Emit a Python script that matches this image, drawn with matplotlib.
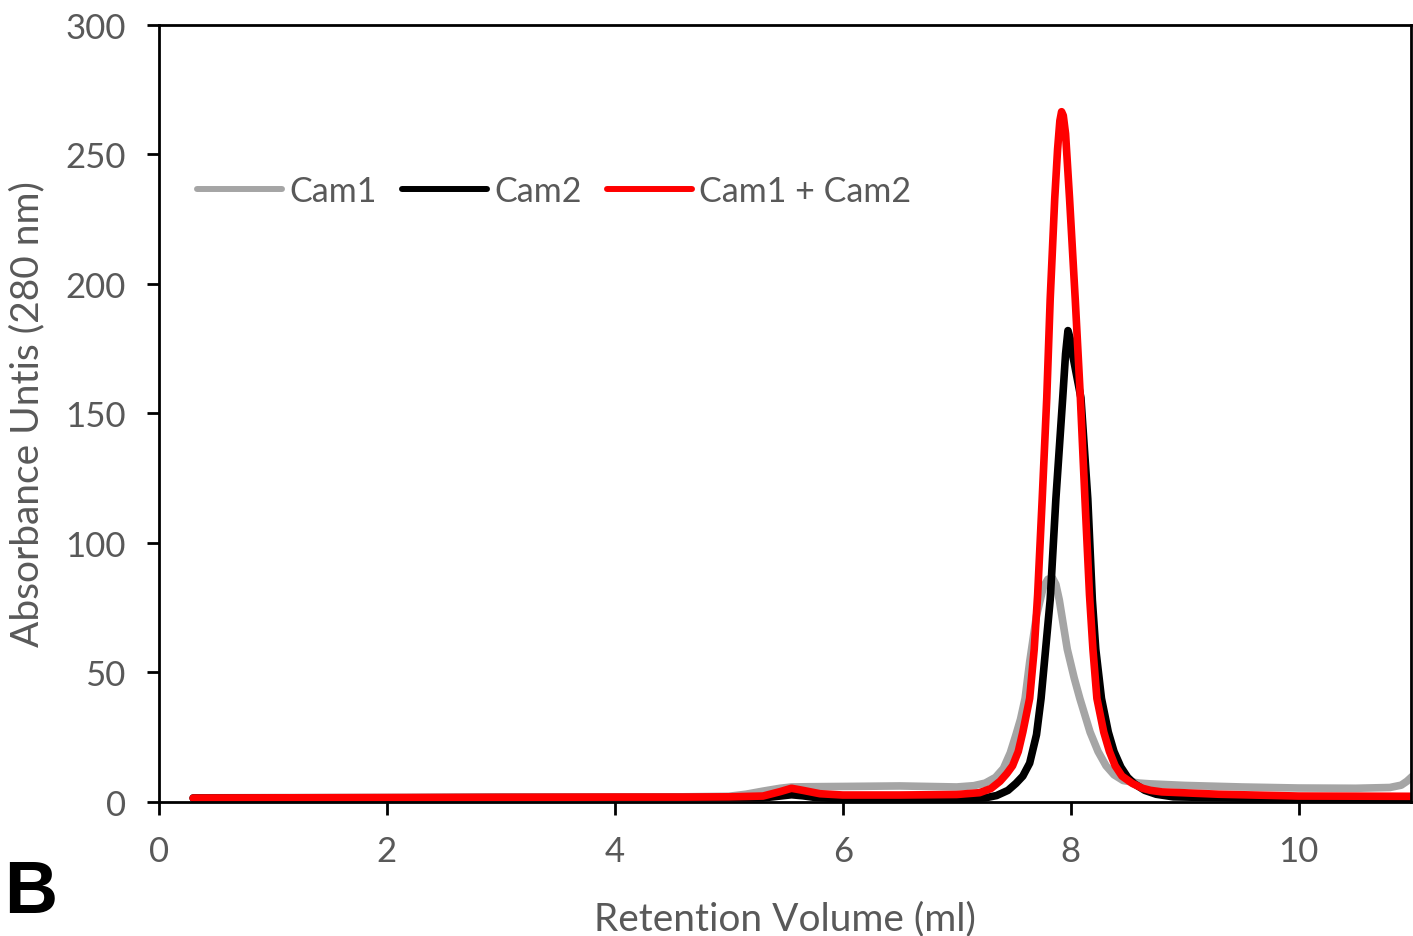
import numpy as np
import matplotlib
matplotlib.use("Agg")
import matplotlib.pyplot as plt

# (ml, absorbance units)
cam1_x = [0.3, 1, 2, 3, 4, 4.6, 5.0, 5.15, 5.3, 5.45, 5.55, 5.7, 6.0, 6.5, 7.0,
          7.15, 7.25, 7.34, 7.41, 7.47, 7.52, 7.56, 7.6, 7.64, 7.7, 7.76, 7.8, 7.84,
          7.87, 7.9, 7.97, 8.03, 8.08, 8.17, 8.24, 8.31, 8.38, 8.46, 8.6, 8.7, 9.0,
          9.5, 10.0, 10.5, 10.8, 10.9, 10.95, 11.0]
cam1_y = [1.6, 1.7, 1.8, 1.9, 1.9, 2.0, 2.2, 3.0, 4.2, 5.3, 5.8, 5.9, 6.0, 6.2, 5.8,
          6.3, 7.3, 9.5, 13, 19, 26, 32, 40, 54, 72, 83, 86, 86.5,
          84, 78, 59, 48, 40, 27, 19.5, 14, 10.5, 8.3, 7.3, 7.0, 6.4,
          5.8, 5.4, 5.3, 5.6, 6.5, 8.0, 10.0]

cam2_x = [0.3, 1, 2, 3, 4, 5.0, 5.3, 5.45, 5.55, 5.65, 5.75, 6.0, 7.0, 7.25, 7.35,
          7.45, 7.52, 7.58, 7.64, 7.7, 7.74, 7.78, 7.82, 7.87, 7.93, 7.955, 7.976,
          7.995, 8.02, 8.09, 8.15, 8.19, 8.22, 8.27, 8.33, 8.38, 8.44, 8.5,
          8.56, 8.65, 8.75, 8.9, 9.5, 10.0, 10.5, 11.0]
cam2_y = [1.5, 1.5, 1.6, 1.7, 1.7, 1.7, 1.6, 2.3, 2.8, 2.4, 1.8, 1.2, 1.2, 1.6, 2.5,
          4.5, 7.2, 10, 15, 26, 40, 59, 78, 117, 156, 173, 182,
          179, 172, 156, 117, 78, 59, 40, 27, 19.5, 13.5, 9.5,
          7.0, 4.5, 3.0, 2.0, 1.5, 1.4, 1.3, 1.3]

mix_x = [0.3, 1, 2, 3, 4, 4.6, 5.0, 5.3, 5.45, 5.55, 5.65, 5.8, 6.0, 6.5, 7.0,
         7.2, 7.3, 7.38, 7.44, 7.49, 7.54, 7.58, 7.64, 7.68, 7.71, 7.75, 7.79, 7.82,
         7.86, 7.885, 7.905, 7.92, 7.935, 7.955, 7.99, 8.04, 8.085, 8.125, 8.165,
         8.195, 8.23, 8.29, 8.34, 8.39, 8.45, 8.54, 8.63, 8.7, 8.8, 9.3, 10.0, 11.0]
mix_y = [1.5, 1.6, 1.7, 1.8, 1.9, 1.9, 2.0, 2.3, 4.0, 5.3, 4.5, 3.2, 2.7, 2.7, 2.9,
         3.6, 5.2, 8, 11, 14, 19.5, 27, 40, 59, 80, 117, 156, 194,
         233, 252, 263, 266.5, 265, 258, 233, 194, 156, 117, 80,
         59, 40, 27, 19.5, 14, 10, 7.2, 5.3, 4.5, 3.9, 3.0, 2.3, 2.2]

labels = ["Cam1", "Cam2", "Cam1 + Cam2"]
colors = ["#A5A5A5", "#000000", "#FF0000"]

plt.rcParams["font.family"] = ["Lato", "DejaVu Sans"]

fig = plt.figure(figsize=(14.13, 9.37), dpi=100)
ax = fig.add_axes([0.1125, 0.143, 0.886, 0.8293])

for xs, ys, lab, c in zip([cam1_x, cam2_x, mix_x], [cam1_y, cam2_y, mix_y], labels, colors):
    ax.plot(xs, ys, color=c, lw=5.5, label=lab, solid_capstyle="round", solid_joinstyle="round")

ax.set_xlim(0, 10.985)
ax.set_ylim(0, 300)
ax.set_xticks([0, 2, 4, 6, 8, 10])
ax.set_yticks([0, 50, 100, 150, 200, 250, 300])

for s in ax.spines.values():
    s.set_linewidth(2.0)
    s.set_color("black")
ax.tick_params(direction="out", length=9, width=2.0, labelsize=25,
               labelcolor="#595959", pad=15)

ax.set_xlabel("Retention Volume (ml)", fontsize=28, color="#595959", labelpad=24)
ax.set_ylabel("Absorbance Untis (280 nm)", fontsize=28, color="#595959", labelpad=14)

leg = ax.legend(loc="center left", bbox_to_anchor=(0.017, 0.786), ncol=3, frameon=False,
                fontsize=24.5, handlelength=2.5, handletextpad=0.2, columnspacing=0.75,
                borderpad=0, labelcolor="#595959")
for h in leg.get_lines():
    h.set_linewidth(4.3)

fig.text(0.003, 0.01, "B", fontsize=53, fontweight="bold", family="Liberation Sans",
         color="black", va="bottom", ha="left")

fig.savefig("out.png", dpi=100)
